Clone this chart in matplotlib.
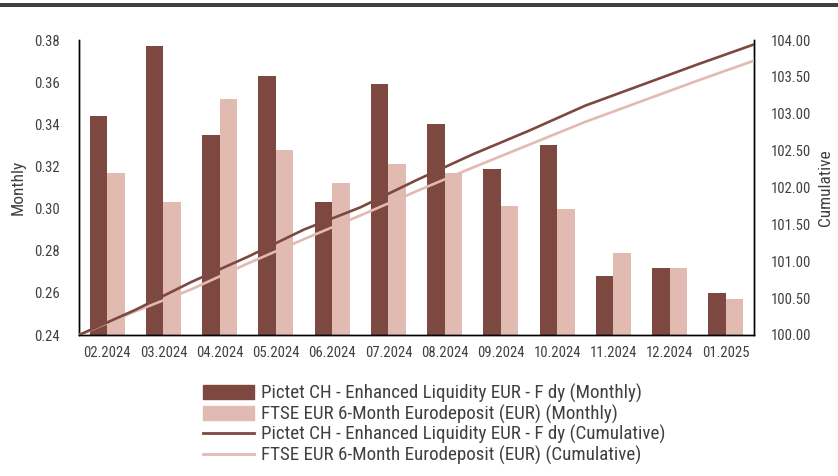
import matplotlib
matplotlib.use("Agg")
import matplotlib.pyplot as plt
from matplotlib import font_manager
from matplotlib.patches import Rectangle
from matplotlib.lines import Line2D

# ---- data ----
months = ["02.2024", "03.2024", "04.2024", "05.2024", "06.2024", "07.2024",
          "08.2024", "09.2024", "10.2024", "11.2024", "12.2024", "01.2025"]
fund_monthly = [0.344, 0.377, 0.335, 0.363, 0.303, 0.359,
                0.340, 0.319, 0.330, 0.268, 0.272, 0.260]
bench_monthly = [0.317, 0.303, 0.352, 0.328, 0.312, 0.321,
                 0.317, 0.301, 0.300, 0.279, 0.272, 0.257]
# cumulative values at month boundaries (start + each month end)
fund_cum = [100.00, 100.34, 100.72, 101.06, 101.43, 101.73, 102.10,
            102.45, 102.77, 103.11, 103.39, 103.67, 103.94]
bench_cum = [100.00, 100.32, 100.62, 100.97, 101.30, 101.62, 101.95,
             102.27, 102.58, 102.89, 103.17, 103.45, 103.72]

label_fund_m = "Pictet CH - Enhanced Liquidity EUR - F dy (Monthly)"
label_bench_m = "FTSE EUR 6-Month Eurodeposit (EUR) (Monthly)"
label_fund_c = "Pictet CH - Enhanced Liquidity EUR - F dy (Cumulative)"
label_bench_c = "FTSE EUR 6-Month Eurodeposit (EUR) (Cumulative)"

left_ticks = [0.24, 0.26, 0.28, 0.30, 0.32, 0.34, 0.36, 0.38]
right_ticks = [100.0, 100.5, 101.0, 101.5, 102.0, 102.5, 103.0, 103.5, 104.0]

# ---- style ----
names = {f.name for f in font_manager.fontManager.ttflist}
stretch = "normal"
family = "DejaVu Sans"
for cand in ["Roboto Condensed", "Liberation Sans Narrow", "Open Sans Condensed"]:
    if cand in names:
        family = cand
        break
else:
    stretch = "condensed"
plt.rcParams["font.family"] = [family, "DejaVu Sans"]
plt.rcParams["font.stretch"] = stretch

DARK = "#7d4840"
LIGHT = "#e1bab1"
TXT = "#404040"

fig = plt.figure(figsize=(8.38, 4.76), dpi=100)
ax = fig.add_axes([79 / 838, 1 - 335 / 476, (754 - 79) / 838, (335 - 40) / 476])
ax2 = ax.twinx()

x = list(range(len(months)))
w = 0.31
ax.bar([i - 0.155 for i in x], fund_monthly, width=w, color=DARK, zorder=2)
ax.bar([i + 0.155 for i in x], bench_monthly, width=w, color=LIGHT, zorder=2)
ax.set_ylim(0.24, 0.38)
ax.set_xlim(-0.5, len(months) - 0.5)
ax.set_yticks(left_ticks)
ax.set_yticklabels([f"{t:.2f}" for t in left_ticks])
ax.set_xticks(x)
ax.set_xticklabels(months)

xc = [i - 0.5 for i in range(len(fund_cum))]
ax2.plot(xc, bench_cum, color=LIGHT, lw=1.9, zorder=3)
ax2.plot(xc, fund_cum, color=DARK, lw=1.9, zorder=4)
ax2.set_ylim(100.0, 104.0)
ax2.set_yticks(right_ticks)
ax2.set_yticklabels([f"{t:.2f}" for t in right_ticks])

for a in (ax, ax2):
    a.spines["top"].set_visible(False)
    for s in ("left", "right", "bottom"):
        a.spines[s].set_color("black")
        a.spines[s].set_linewidth(1.0)
    a.tick_params(length=0, labelsize=10.5, colors=TXT)
ax.tick_params(axis="y", pad=14)
ax.tick_params(axis="x", pad=8)
ax2.tick_params(axis="y", pad=12)

ax.set_ylabel("Monthly", fontsize=12.5, color=TXT, labelpad=6)
ax2.set_ylabel("Cumulative", fontsize=12.5, color=TXT, labelpad=5)

# top dark band
fig.add_artist(Rectangle((0, 1 - 7 / 476), 1, 4 / 476, transform=fig.transFigure,
                         color="#404040", lw=0))

handles = [Rectangle((0, 0), 1, 1, color=DARK), Rectangle((0, 0), 1, 1, color=LIGHT),
           Line2D([], [], color=DARK, lw=2), Line2D([], [], color=LIGHT, lw=2)]
leg = fig.legend(handles, [label_fund_m, label_bench_m, label_fund_c, label_bench_c],
                 loc="upper center", bbox_to_anchor=(434 / 838, 1 - 376 / 476),
                 frameon=False, fontsize=13.7, handlelength=2.7, handleheight=0.75,
                 handletextpad=0.35, labelspacing=0.08, borderaxespad=0)
for t in leg.get_texts():
    t.set_color(TXT)

fig.savefig("out.png", dpi=100)
